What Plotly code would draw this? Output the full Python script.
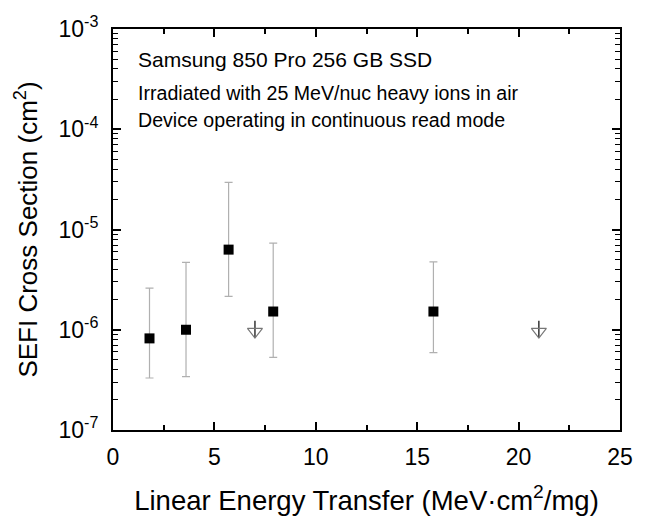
import plotly.graph_objects as go

# Measured data (squares with error bars)
let_vals = [1.8, 3.6, 5.7, 7.9, 15.8]
xs_vals = [8.2e-7, 1.0e-6, 6.3e-6, 1.52e-6, 1.52e-6]
err_hi = [2.6e-6, 4.7e-6, 2.95e-5, 7.3e-6, 4.75e-6]
err_lo = [3.3e-7, 3.4e-7, 2.15e-6, 5.3e-7, 5.9e-7]

# Upper limits (no events)
lim_let = [7.0, 21.0]
lim_xs = [9.6e-7, 9.6e-7]

font_family = "Liberation Sans, Arial, sans-serif"

fig = go.Figure()
fig.add_trace(go.Scatter(
    x=let_vals, y=xs_vals, mode="markers",
    marker=dict(symbol="square", size=10, color="black"),
    error_y=dict(type="data", symmetric=False,
                 array=[h - v for h, v in zip(err_hi, xs_vals)],
                 arrayminus=[v - l for v, l in zip(xs_vals, err_lo)],
                 color="#b0b0b0", thickness=1.2, width=4),
    showlegend=False,
))
fig.add_trace(go.Scatter(
    x=lim_let, y=lim_xs, mode="markers",
    marker=dict(symbol="triangle-down-open", size=13, color="#777777",
                line=dict(width=1.2)),
    error_y=dict(type="percent", symmetric=False, value=28, valueminus=13,
                 color="black", thickness=1.2, width=0),
    showlegend=False,
))

annots = [
    ("Samsung 850 Pro 256 GB SSD", 21, 0.925),
    ("Irradiated with 25 MeV/nuc heavy ions in air", 19.6, 0.84),
    ("Device operating in continuous read mode", 19.6, 0.774),
]
for txt, sz, yy in annots:
    fig.add_annotation(text=txt, xref="paper", yref="paper", x=0.045, y=yy,
                       xanchor="left", yanchor="middle", showarrow=False,
                       font=dict(size=sz, color="black", family=font_family))

axis_common = dict(showline=True, linecolor="black", linewidth=2, mirror="allticks",
                   ticks="inside", tickcolor="black", tickwidth=1.5,
                   showgrid=False, zeroline=False,
                   tickfont=dict(size=23, color="black", family=font_family))

fig.update_xaxes(range=[0, 25], tickvals=[0, 5, 10, 15, 20, 25], ticklen=8,
                 ticklabelstandoff=5,
                 minor=dict(ticks="inside", tickvals=[2.5, 7.5, 12.5, 17.5, 22.5],
                            ticklen=5, tickcolor="black", tickwidth=1.5),
                 title=dict(text="Linear Energy Transfer (MeV·cm<sup>2</sup>/mg)",
                            font=dict(size=27.5, color="black", family=font_family),
                            standoff=22),
                 **axis_common)
fig.update_yaxes(type="log", range=[-7, -3],
                 tickvals=[1e-7, 1e-6, 1e-5, 1e-4, 1e-3],
                 ticktext=["10<sup>-7</sup>", "10<sup>-6</sup>", "10<sup>-5</sup>",
                           "10<sup>-4</sup>", "10<sup>-3</sup>"],
                 ticklen=8, ticklabelstandoff=8,
                 minor=dict(ticks="inside", ticklen=5, tickcolor="black", tickwidth=1.2,
                            dtick="D1"),
                 title=dict(text="SEFI Cross Section (cm<sup>2</sup>)",
                            font=dict(size=26, color="black", family=font_family),
                            standoff=13),
                 **axis_common)

fig.update_layout(width=646, height=523, margin=dict(l=113, r=26, t=25, b=90),
                  plot_bgcolor="white", paper_bgcolor="white",
                  font=dict(family=font_family, color="black"))
fig.write_html("out.html")
